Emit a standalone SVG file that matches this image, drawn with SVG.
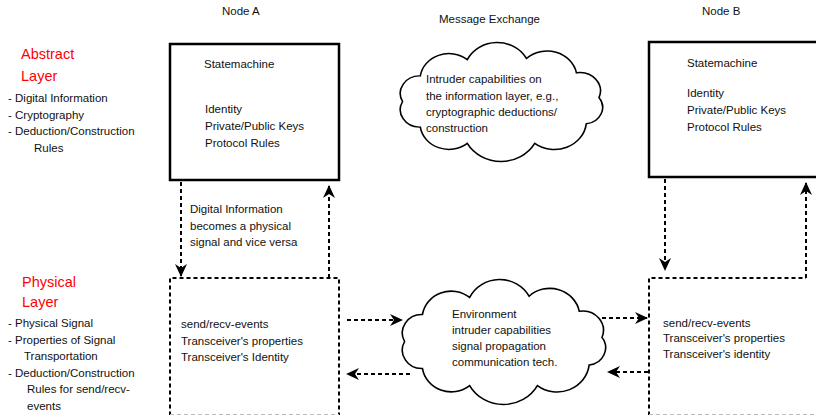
<svg xmlns="http://www.w3.org/2000/svg" width="816" height="415" viewBox="0 0 816 415">
<defs>
<style>
text{font-family:"Liberation Sans",Arial,sans-serif;font-size:11.5px;fill:#111}
.red{fill:#ff0000;font-size:14.5px}
.box{fill:none;stroke:#000;stroke-width:2.5}
.dbox{fill:none;stroke:#000;stroke-width:2;stroke-dasharray:4 3}
.conn{fill:none;stroke:#000;stroke-width:2;stroke-dasharray:4 3}
.cloud{fill:#fff;stroke:#000;stroke-width:1.5}
</style>
<marker id="ah" markerUnits="userSpaceOnUse" markerWidth="14" markerHeight="14" viewBox="0 0 14 14" refX="12" refY="7" orient="auto">
<path d="M0,1 L13,7 L0,13 L4,7 Z" fill="#000"/>
</marker>
<path id="cloudp" d="M-92,0 A18,18 0 0 1 -75.4,-26.4 A27,27 0 0 1 -31.5,-43.2 A31,31 0 0 1 23.8,-44.4 A28,28 0 0 1 70.5,-29.6 A19,19 0 0 1 91.6,-4 A17,17 0 0 1 79.7,23 A30,30 0 0 1 31.5,43.2 A36,36 0 0 1 -31.5,43.2 A27,27 0 0 1 -75.4,26.4 A18,18 0 0 1 -92,0 Z"/>
</defs>

<g id="labels">
<text x="222" y="15">Node A</text>
<text x="439" y="23">Message Exchange</text>
<text x="702" y="15">Node B</text>
</g>

<g id="abstract-legend">
<text class="red" x="21" y="59">Abstract</text>
<text class="red" x="21" y="81">Layer</text>
<text x="8" y="102">- Digital Information</text>
<text x="8" y="119">- Cryptography</text>
<text x="8" y="135">- Deduction/Construction</text>
<text x="34" y="152">Rules</text>
</g>

<g id="physical-legend">
<text class="red" x="22" y="287">Physical</text>
<text class="red" x="22" y="307">Layer</text>
<text x="8" y="327">- Physical Signal</text>
<text x="8" y="344">- Properties of Signal</text>
<text x="24" y="360">Transportation</text>
<text x="8" y="377">- Deduction/Construction</text>
<text x="27" y="393">Rules for send/recv-</text>
<text x="27" y="410">events</text>
</g>

<g id="nodeA-abstract">
<rect class="box" x="170" y="44" width="169" height="136"/>
<text x="204" y="68">Statemachine</text>
<text x="205" y="113">Identity</text>
<text x="205" y="130">Private/Public Keys</text>
<text x="205" y="147">Protocol Rules</text>
</g>

<g id="nodeB-abstract">
<rect class="box" x="649" y="42" width="180" height="135"/>
<text x="687" y="67">Statemachine</text>
<text x="687" y="97">Identity</text>
<text x="687" y="114">Private/Public Keys</text>
<text x="687" y="131">Protocol Rules</text>
</g>

<g id="cloud-info">
<use href="#cloudp" class="cloud" transform="translate(501,101.5) scale(1.07,0.97)" vector-effect="non-scaling-stroke"/>
<text x="426" y="83">Intruder capabilities on</text>
<text x="426" y="100">the information layer, e.g.,</text>
<text x="426" y="116">cryptographic deductions/</text>
<text x="426" y="132">construction</text>
</g>

<g id="nodeA-physical">
<path class="dbox" d="M170,415.5 V278 H339 V415.5"/>
<path d="M170,414.5 H339" stroke="#bbb" stroke-width="1" stroke-dasharray="4 3"/>
<text x="181" y="328">send/recv-events</text>
<text x="181" y="345">Transceiver's properties</text>
<text x="181" y="361">Transceiver's Identity</text>
</g>

<g id="cloud-env">
<use href="#cloudp" class="cloud" transform="translate(503.5,341.5) scale(1.075,1.02)" vector-effect="non-scaling-stroke"/>
<text x="452" y="318">Environment</text>
<text x="452" y="334">intruder capabilities</text>
<text x="452" y="350">signal propagation</text>
<text x="452" y="366">communication tech.</text>
</g>

<g id="nodeB-physical">
<path class="dbox" d="M649,415.5 V278 H806"/>
<path d="M649,414.5 H816" stroke="#bbb" stroke-width="1" stroke-dasharray="4 3"/>
<text x="663" y="327">send/recv-events</text>
<text x="663" y="342">Transceiver's properties</text>
<text x="663" y="358">Transceiver's identity</text>
</g>

<g id="connectors">
<path class="conn" d="M181,182 V276" marker-end="url(#ah)"/>
<path class="conn" d="M329,278 V186" marker-end="url(#ah)"/>
<text x="190" y="213">Digital Information</text>
<text x="190" y="230">becomes a physical</text>
<text x="190" y="246">signal and vice versa</text>
<path class="conn" d="M665,179 V270" marker-end="url(#ah)"/>
<path class="conn" d="M806,278 V183" marker-end="url(#ah)"/>
<path class="conn" d="M347,320 H402" marker-end="url(#ah)"/>
<path class="conn" d="M410,374 H347" marker-end="url(#ah)"/>
<path class="conn" d="M602,318 H647" marker-end="url(#ah)"/>
<path class="conn" d="M648,372 H608" marker-end="url(#ah)"/>
</g>
</svg>
